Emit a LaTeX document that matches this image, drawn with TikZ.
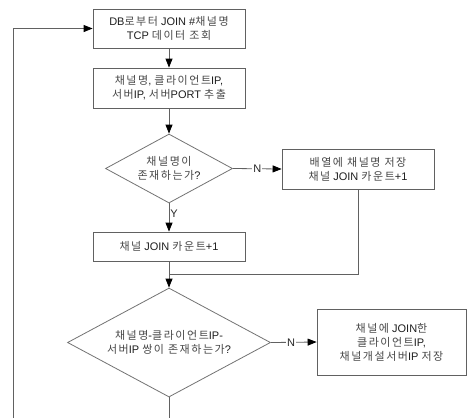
\documentclass[tikz,border=0pt]{standalone}
\usepackage{fontspec}
\setmainfont{Liberation Sans}
\newfontfamily\kr{Noto Sans CJK KR}[Scale=1.0,LetterSpace=14]
\usetikzlibrary{arrows.meta,shapes.geometric}
\newcommand\K[1]{{\kr\color{black!72}#1}}
\begin{document}
\begin{tikzpicture}[x=1bp,y=-1bp,
  txt/.style={align=center, text=black!88, font=\fontsize{11bp}{14bp}\selectfont},
  box/.style={txt, draw=black!62, line width=0.8bp, fill=white, rectangle, inner sep=0pt},
  dia/.style={draw=black!55, line width=0.8bp, diamond, shape aspect=2, inner sep=0pt},
  conn/.style={draw=black!62, line width=0.8bp, -{Triangle[length=9bp,width=7bp,color=black]}},
  plain/.style={draw=black!62, line width=0.8bp},
  lab/.style={font=\fontsize{11bp}{13bp}\selectfont, text=black!85, inner sep=1bp}]
\fill[white] (0,0) rectangle (468,418);
\useasboundingbox (0,0) rectangle (468,418);

\node[box, minimum width=152bp, minimum height=39bp] (b1) at (169,28.5)
  {DB\K{로부터} JOIN \#\K{채널명}\\TCP \K{데이터 조회}};
\node[box, minimum width=152bp, minimum height=40bp] (b2) at (169,88)
  {\K{채널명}, \K{클라이언트}IP,\\\K{서버}IP, \K{서버}PORT \K{추출}};
\node[dia, minimum width=127bp, minimum height=69bp,
  label={[txt]center:{\K{채널명이}\\\K{존재하는가}?}}] (d1) at (169,168.5) {};
\node[box, minimum width=152bp, minimum height=40bp] (b3) at (358,169)
  {\K{배열에 채널명 저장}\\\K{채널} JOIN \K{카운트}+1};
\node[box, minimum width=152bp, minimum height=29bp] (b4) at (169,246.5)
  {\K{채널} JOIN \K{카운트}+1};
\coordinate (m) at (169,274);
\node[dia, minimum width=203bp, minimum height=109bp,
  label={[txt]center:{\K{채널명}-\K{클라이언트}IP-\\\K{서버}IP \K{쌍이 존재하는가}?}}] (d2) at (169,342.5) {};
\node[box, minimum width=149bp, minimum height=66bp] (b5) at (391.5,342)
  {\K{채널에} JOIN\K{한}\\\K{클라이언트}IP,\\\K{채널개설서버}IP \K{저장}};
\coordinate (bot) at (169,418);
\coordinate (lb) at (13,418);

\draw[conn] (b1) -- (b2);
\draw[conn] (b2) -- (d1);
\draw[conn] (d1.east) -- node[lab, fill=white] {N} (b3.west);
\draw[conn] (d1.south) -- node[lab, right, pos=0.38] {Y} (b4.north);
\draw[plain] (b3.south) |- (m);
\draw[conn] (b4.south) -- (d2.north);
\draw[conn] (d2.east) -- node[lab, fill=white, pos=0.44] {N} (b5.west);
\draw[plain] (d2.south) -- (bot);
\draw[conn] (lb) |- (b1.west);
\end{tikzpicture}
\end{document}
